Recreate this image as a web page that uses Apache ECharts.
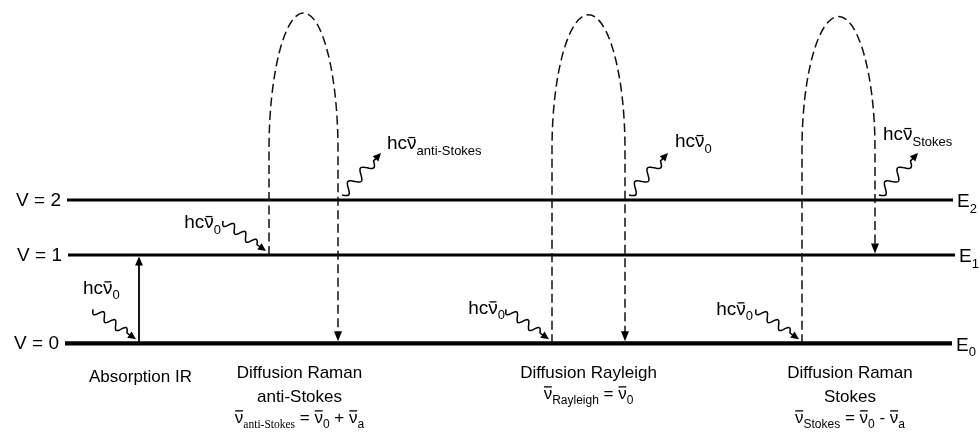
<!DOCTYPE html>
<html>
<head>
<meta charset="utf-8">
<script src="https://cdn.jsdelivr.net/npm/echarts@6/dist/echarts.min.js"></script>
<style>html,body{margin:0;padding:0;background:#fff}#c{width:979px;height:432px}</style>
</head>
<body>
<div id="c"></div>
<script>
// ---------------- data ----------------
const levelEnergies = [0, 1, 1.623];                 // vibrational levels V = 0, 1, 2 (units of first spacing)
const levelTags = ['0', '1', '2'];                   // "V = n"
const levelSymbols = ['0', '1', '2'];                // "E_n"
const processTitles = [['Absorption IR'], ['Diffusion Raman', 'anti-Stokes'], ['Diffusion Rayleigh'], ['Diffusion Raman', 'Stokes']];
const fromLevel = [0, 1, 0, 0];                      // initial vibrational level of each process
const toLevel = [1, 0, 0, 1];                        // final vibrational level of each process
const virtualApex = [null, 3.74, 3.72, 3.70];        // top of the virtual state (energy units)
const virtualShoulder = [null, 2.19, 2.2, 2.2];      // where the virtual-state loop starts to bend
const incidentSub = ['0', '0', '0', '0'];            // hc nu_0 incident photon
const scatteredSub = [null, 'anti-Stokes', '0', 'Stokes'];
const formulaSub = [null, 'anti-Stokes', 'Rayleigh', 'Stokes'];
const formulaRhs = [null, ['0', '+', 'a'], ['0'], ['0', '-', 'a']];

// ---------------- layout (positions / sizes / styles) ----------------
const L = {
  zeroY: 343.3, pxPerUnit: 88.3, W: 979, H: 432,
  levelX: [[65, 952], [68, 955], [67, 953]],
  levelW: [4.2, 3, 3],
  tagGap: 6, symGap: 4,
  colX: [[139, 139], [269, 338], [552, 625], [802, 875]],
  titleX: [140.5, 299.5, 588.5, 850],
  titleY: [377, 373, 373, 373],
  lineGap: 24,
  inTipOff: [-3, -4], inStartOff: [-43, -30],
  inLabelOff: [[-10, -21, 'left'], [-2, 2, 'right'], [-1, -1, 'right'], [-3, 0, 'right']],
  outStartOff: [4, -5], outTipOff: [43, -47],
  outLabelOff: [null, [6, -9], [7, -11], [-35, -18]]
};
const FONT = '"Liberation Sans", Arial, Helvetica, sans-serif';
const SERIF = '"Liberation Serif", "Times New Roman", serif';
const NU = '\u03BD';
const INK = '#000';
const py = ypx => (L.zeroY - ypx) / L.pxPerUnit;   // picture reading -> energy units

const LABEL_STYLE = { main: 19, sub: 13, subDy: 7, barRise: 13, barInset: 0.14, serifSub: 12 };
const FORMULA_STYLE = { main: 17, sub: 12, subDy: 6.5, barRise: 13, barInset: 0.04, serifSub: 11.5 };

const rich19 = {
  m: { fontSize: 19, fontFamily: FONT, fill: INK },
  s: { fontSize: 13, fontFamily: FONT, fill: INK, padding: [14, 0, 0, 0] }
};

const mctx = document.createElement('canvas').getContext('2d');
function tw(t, size, fam) { mctx.font = size + 'px ' + fam; return mctx.measureText(t).width; }

function txt(x, y, text, extra) {
  return {
    type: 'text', x: x, y: y,
    style: Object.assign({ text: text, fill: INK, fontSize: 19, fontFamily: FONT,
      align: 'left', verticalAlign: 'middle', textAlign: 'left', textVerticalAlign: 'middle' }, extra || {})
  };
}
// text made of pieces: {t, sub, bar, serif}; y = middle of the main-size line
function mathText(x, y, pieces, align, st) {
  const items = pieces.map(p => {
    const size = p.sub ? (p.serif ? st.serifSub : st.sub) : st.main;
    const fam = p.serif ? SERIF : FONT;
    return { p: p, size: size, fam: fam, w: tw(p.t, size, fam) };
  });
  const total = items.reduce((s, it) => s + it.w, 0);
  let cx = align === 'right' ? x - total : align === 'center' ? x - total / 2 : x;
  const out = [];
  const baseline = y + 0.3465 * st.main;
  items.forEach(it => {
    out.push({ type: 'text', x: cx, y: it.p.sub ? y + st.subDy : y,
      style: { text: it.p.t, fill: INK, fontSize: it.size, fontFamily: it.fam,
        align: 'left', verticalAlign: 'middle', textAlign: 'left', textVerticalAlign: 'middle' } });
    if (it.p.bar) {
      const by = baseline - st.barRise;
      out.push({ type: 'line', shape: { x1: cx + it.w * st.barInset, y1: by, x2: cx + it.w * (1 - st.barInset), y2: by },
        style: { stroke: INK, lineWidth: 1.3 } });
    }
    cx += it.w;
  });
  return out;
}
function arrowHead(tip, u, len, hw) {
  const bx = tip[0] - u[0] * len, by = tip[1] - u[1] * len;
  return { type: 'polygon', shape: { points: [[tip[0], tip[1]], [bx - u[1] * hw, by + u[0] * hw], [bx + u[1] * hw, by - u[0] * hw]] },
    style: { fill: INK, stroke: null } };
}
function photon(start, tip, periods, amp) {
  const dx = tip[0] - start[0], dy = tip[1] - start[1], len = Math.hypot(dx, dy);
  const u = [dx / len, dy / len], n = [-u[1], u[0]];
  const head = 8, waveLen = len - head - 3;
  const pts = [];
  for (let k = 0; k <= 80; k++) {
    const t = k / 80, s = waveLen * t, o = amp * Math.sin(2 * Math.PI * periods * t);
    pts.push([start[0] + u[0] * s + n[0] * o, start[1] + u[1] * s + n[1] * o]);
  }
  pts.push([tip[0] - u[0] * (head - 1), tip[1] - u[1] * (head - 1)]);
  return [
    { type: 'polyline', shape: { points: pts }, style: { stroke: INK, lineWidth: 1.5, fill: null } },
    arrowHead(tip, u, head, 3.8)
  ];
}

function renderLevel(params, api) {
  const i = params.dataIndex;
  const e = api.value(1);
  const p0 = api.coord([L.levelX[i][0], e]);
  const p1 = api.coord([L.levelX[i][1], e]);
  return {
    type: 'group', children: [
      { type: 'line', shape: { x1: p0[0], y1: p0[1], x2: p1[0], y2: p1[1] }, style: { stroke: INK, lineWidth: L.levelW[i] } },
      txt(p0[0] - L.tagGap, p0[1] + 0.5, 'V = ' + levelTags[i], { align: 'right', textAlign: 'right' }),
      txt(p1[0] + L.symGap, p1[1] + 2, '{m|E}{s|' + levelSymbols[i] + '}', { rich: rich19 })
    ]
  };
}

function hcLabel(sub) {
  return [{ t: 'hc' }, { t: NU, bar: true }, { t: sub, sub: true }];
}

function renderProcess(params, api) {
  const i = params.dataIndex;
  const ch = [];
  const xl = L.colX[i][0], xr = L.colX[i][1];
  const eFrom = levelEnergies[fromLevel[i]], eTo = levelEnergies[toLevel[i]];
  const wTo = L.levelW[toLevel[i]];
  const a = api.coord([xl, eFrom]);
  if (virtualApex[i] == null) {
    const b = api.coord([xl, eTo]);
    const tip = [b[0], b[1] + wTo / 2];
    ch.push({ type: 'line', shape: { x1: a[0], y1: a[1], x2: tip[0], y2: tip[1] + 7 }, style: { stroke: INK, lineWidth: 1.8 } });
    ch.push(arrowHead(tip, [0, -1], 9, 4));
  } else {
    const pl = api.coord([xl, virtualShoulder[i]]);
    const pr = api.coord([xr, virtualShoulder[i]]);
    const top = api.coord([(xl + xr) / 2, virtualApex[i]]);
    const end = api.coord([xr, eTo]);
    const tip = [end[0], end[1] - wTo / 2];
    const ax = (pr[0] - pl[0]) / 2, by = pl[1] - top[1], k = 0.5523, cx = (pl[0] + pr[0]) / 2;
    const d = 'M' + pl[0] + ' ' + a[1] + ' L' + pl[0] + ' ' + pl[1] +
      ' C' + pl[0] + ' ' + (pl[1] - k * by) + ' ' + (cx - k * ax) + ' ' + top[1] + ' ' + cx + ' ' + top[1] +
      ' C' + (cx + k * ax) + ' ' + top[1] + ' ' + pr[0] + ' ' + (pr[1] - k * by) + ' ' + pr[0] + ' ' + pr[1] +
      ' L' + pr[0] + ' ' + (tip[1] - 8);
    ch.push({ type: 'path', shape: { pathData: d }, style: { stroke: '#111', lineWidth: 1.5, lineDash: [9, 4.5], fill: null } });
    ch.push(arrowHead(tip, [0, 1], 10, 4));
    // scattered photon
    const v2 = api.coord([xr, levelEnergies[2]]);
    const os = [v2[0] + L.outStartOff[0], v2[1] + L.outStartOff[1]];
    const ot = [v2[0] + L.outTipOff[0], v2[1] + L.outTipOff[1]];
    photon(os, ot, 2.5, 4.8).forEach(el => ch.push(el));
    const lo = L.outLabelOff[i];
    mathText(ot[0] + lo[0], ot[1] + lo[1], hcLabel(scatteredSub[i]), 'left', LABEL_STYLE).forEach(el => ch.push(el));
  }
  // incident photon
  const it = [a[0] + L.inTipOff[0], a[1] + L.inTipOff[1]];
  const is = [it[0] + L.inStartOff[0], it[1] + L.inStartOff[1]];
  photon(is, it, 3, 4).forEach(el => ch.push(el));
  const li = L.inLabelOff[i];
  mathText(is[0] + li[0], is[1] + li[1], hcLabel(incidentSub[i]), li[2], LABEL_STYLE).forEach(el => ch.push(el));
  // titles
  const lines = processTitles[i];
  lines.forEach((s, j) => {
    const p = api.coord([L.titleX[i], py(L.titleY[i] + j * L.lineGap)]);
    ch.push(txt(p[0], p[1], s, { fontSize: 17, align: 'center', textAlign: 'center' }));
  });
  if (formulaSub[i]) {
    const p = api.coord([L.titleX[i], py(L.titleY[i] + lines.length * L.lineGap - 3)]);
    const pieces = [{ t: NU, bar: true }, { t: formulaSub[i], sub: true, serif: formulaSub[i] === 'anti-Stokes' },
      { t: ' = ' }, { t: NU, bar: true }, { t: formulaRhs[i][0], sub: true }];
    if (formulaRhs[i].length > 1) {
      pieces.push({ t: ' ' + formulaRhs[i][1] + ' ' }, { t: NU, bar: true }, { t: formulaRhs[i][2], sub: true });
    }
    mathText(p[0], p[1], pieces, 'center', FORMULA_STYLE).forEach(el => ch.push(el));
  }
  return { type: 'group', children: ch };
}

const chart = echarts.init(document.getElementById('c'));
chart.setOption({
  animation: false,
  backgroundColor: '#fff',
  grid: { left: 0, right: 0, top: 0, bottom: 0 },
  xAxis: { type: 'value', min: 0, max: L.W, show: false },
  yAxis: { type: 'value', min: py(L.H), max: py(0), show: false },
  series: [
    { type: 'custom', coordinateSystem: 'cartesian2d', encode: { x: 0, y: 1 }, clip: false,
      data: levelEnergies.map((e, i) => [i, e]), renderItem: renderLevel },
    { type: 'custom', coordinateSystem: 'cartesian2d', encode: { x: 0, y: 1 }, clip: false,
      data: processTitles.map((t, i) => [i, levelEnergies[fromLevel[i]]]), renderItem: renderProcess }
  ]
});
</script>
</body>
</html>
